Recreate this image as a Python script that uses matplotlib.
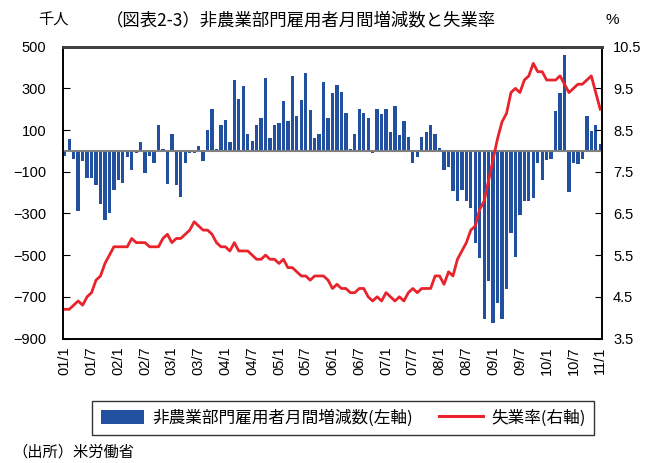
import numpy as np
import matplotlib
matplotlib.use("Agg")
import matplotlib.pyplot as plt
from matplotlib.patches import Patch
from matplotlib.lines import Line2D

plt.rcParams['font.family'] = ['Liberation Sans Narrow', 'Liberation Sans', 'Noto Sans CJK JP']

# 非農業部門雇用者月間増減数（千人） 2001/1 - 2011/1
payroll = [
    -24, 59, -38, -290, -48, -130, -130, -165, -254, -333, -298, -189,   # 2001
    -139, -154, -29, -91, -10, 42, -106, -24, -58, 123, 8, -158,        # 2002
    80, -163, -221, -58, -10, -10, 22, -48, 99, 200, 11, 123,           # 2003
    147, 42, 339, 248, 310, 80, 46, 123, 157, 349, 61, 126,             # 2004
    133, 238, 142, 358, 166, 243, 373, 195, 61, 80, 330, 157,           # 2005
    277, 315, 282, 181, 8, 80, 200, 181, 157, -10, 200, 176,            # 2006
    200, 90, 214, 75, 142, 66, -58, -29, 66, 90, 126, 80,               # 2007
    13, -91, -77, -192, -240, -187, -240, -274, -442, -514, -806, -624, # 2008
    -826, -730, -806, -662, -394, -509, -307, -240, -240, -226, -58, -139,  # 2009
    -43, -38, 190, 277, 459, -197, -58, -62, -38, 166, 94, 123,         # 2010
    32,                                                                 # 2011
]

# 失業率（%）
unemp = [
    4.2, 4.2, 4.3, 4.4, 4.3, 4.5, 4.6, 4.9, 5.0, 5.3, 5.5, 5.7,
    5.7, 5.7, 5.7, 5.9, 5.8, 5.8, 5.8, 5.7, 5.7, 5.7, 5.9, 6.0,
    5.8, 5.9, 5.9, 6.0, 6.1, 6.3, 6.2, 6.1, 6.1, 6.0, 5.8, 5.7,
    5.7, 5.6, 5.8, 5.6, 5.6, 5.6, 5.5, 5.4, 5.4, 5.5, 5.4, 5.4,
    5.3, 5.4, 5.2, 5.2, 5.1, 5.0, 5.0, 4.9, 5.0, 5.0, 5.0, 4.9,
    4.7, 4.8, 4.7, 4.7, 4.6, 4.6, 4.7, 4.7, 4.5, 4.4, 4.5, 4.4,
    4.6, 4.5, 4.4, 4.5, 4.4, 4.6, 4.7, 4.6, 4.7, 4.7, 4.7, 5.0,
    5.0, 4.8, 5.1, 5.0, 5.4, 5.6, 5.8, 6.1, 6.2, 6.6, 6.8, 7.3,
    7.8, 8.3, 8.7, 8.9, 9.4, 9.5, 9.4, 9.7, 9.8, 10.1, 9.9, 9.9,
    9.7, 9.7, 9.7, 9.8, 9.6, 9.4, 9.5, 9.6, 9.6, 9.7, 9.8, 9.4,
    9.0,
]

tick_labels = ['01/1', '01/7', '02/1', '02/7', '03/1', '03/7', '04/1', '04/7',
               '05/1', '05/7', '06/1', '06/7', '07/1', '07/7', '08/1', '08/7',
               '09/1', '09/7', '10/1', '10/7', '11/1']

left_ticks = [-900, -700, -500, -300, -100, 100, 300, 500]
right_ticks = [3.5, 4.5, 5.5, 6.5, 7.5, 8.5, 9.5, 10.5]

bar_color = '#2150A0'
line_color = '#E8232B'
jp = 'Noto Sans CJK JP'

x = np.arange(len(payroll))

fig = plt.figure(figsize=(6.59, 4.63), dpi=100)
ax = fig.add_axes([63 / 659, 1 - 338.5 / 463, (602 - 63) / 659, (338.5 - 46.7) / 463])

ax.bar(x, payroll, width=0.75, color=bar_color, zorder=2)
ax.axhline(0, color='#808080', lw=1.5, zorder=3)
ax.set_xlim(-0.4, 120.4)
ax.set_ylim(-900, 500)
ax.set_yticks(left_ticks)
ax.set_xticks(x[::6])
ax.set_xticklabels(tick_labels, rotation=90, fontsize=10.5)
ax.tick_params(axis='x', length=0, pad=6)
ax.tick_params(axis='y', direction='in', length=5, labelsize=10.5, pad=12)

ax2 = ax.twinx()
ax2.plot(x, unemp, color=line_color, lw=2.0)
ax2.set_ylim(3.5, 10.5)
ax2.set_yticks(right_ticks)
ax2.set_yticklabels([f'{v:.1f}' for v in right_ticks])
ax2.tick_params(axis='y', direction='in', length=5, labelsize=10.5, pad=8)

for a in (ax, ax2):
    for s in ('left', 'right', 'bottom'):
        a.spines[s].set_color('black')
        a.spines[s].set_linewidth(1.2)
    a.spines['top'].set_color('#404040')
    a.spines['top'].set_linewidth(2)

# タイトルと単位
fig.text(38 / 659, 1 - 20 / 463, '千人', fontsize=11, va='center', family=jp)
fig.text(106 / 659, 1 - 20 / 463, '（図表2-3）非農業部門雇用者月間増減数と失業率', fontsize=12.5,
         va='center', family=jp)
fig.text(606 / 659, 1 - 20 / 463, '%', fontsize=11, va='center')

handles = [Patch(facecolor=bar_color, edgecolor='none'),
           Line2D([0], [0], color=line_color, lw=2.2)]
leg = fig.legend(handles, ['非農業部門雇用者月間増減数(左軸)', '失業率(右軸)'],
                 loc='center', bbox_to_anchor=(343 / 659, 1 - 418 / 463), ncol=2,
                 frameon=True, fancybox=False, edgecolor='black',
                 handlelength=2.6, handleheight=0.9, handletextpad=0.5,
                 columnspacing=1.6, borderpad=0.5,
                 prop={'family': jp, 'size': 12})
leg.get_frame().set_linewidth(1.0)

fig.text(12 / 659, 1 - 452 / 463, '（出所）米労働省', fontsize=11, va='center', family=jp)

fig.savefig('out.png', dpi=100)
